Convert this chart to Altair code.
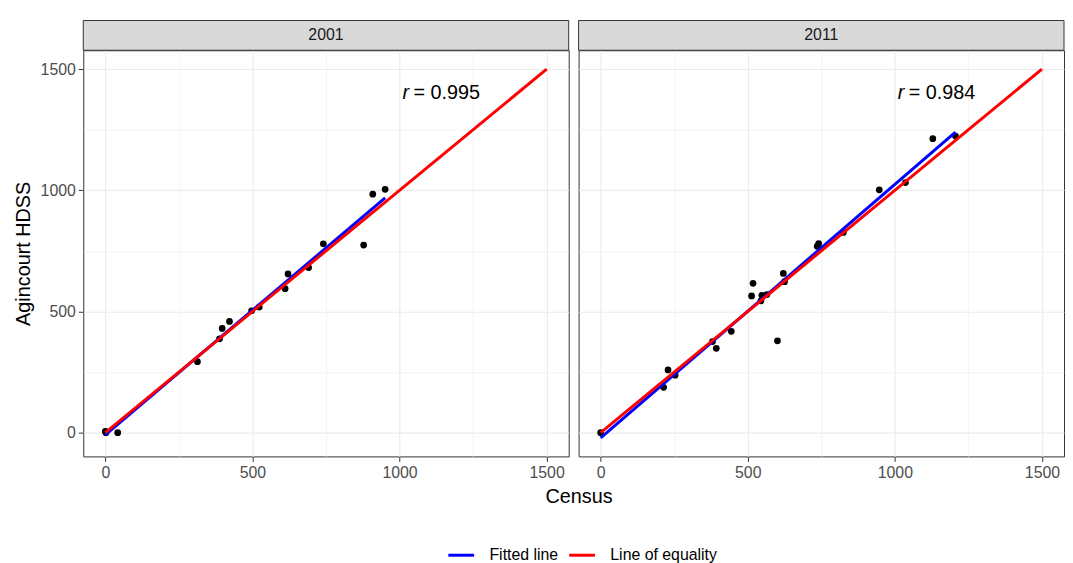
import altair as alt
import pandas as pd

# ---------------- data ----------------
years = ["2001", "2011"]
census_2001 = [0, 2, 42, 313, 388, 397, 422, 497, 523, 611, 621, 691, 741, 878, 909, 951]
hdss_2001 = [5, 0, 0, 293, 387, 430, 459, 503, 518, 594, 655, 681, 779, 774, 984, 1004]
census_2011 = [0, 214, 229, 253, 380, 393, 444, 513, 518, 545, 548, 565, 601, 621, 625,
               736, 741, 825, 947, 1036, 1129, 1206]
hdss_2011 = [0, 187, 259, 237, 376, 348, 418, 564, 616, 544, 567, 570, 379, 657, 623,
             769, 780, 826, 1002, 1032, 1213, 1224]
r_values = ["0.995", "0.984"]
r_label_x = [1000, 1000]
r_label_y = [1400, 1400]
equality_x = [0, 1500]
equality_y = [0, 1500]
series_names = ["Fitted line", "Line of equality"]
series_colors = ["#0000ff", "#ff0000"]
tick_values = [0, 250, 500, 750, 1000, 1250, 1500]

# ---------------- layout ----------------
W, H, STRIP = 490, 410, 30
X_DOMAIN = [-75, 1575]
Y_DOMAIN = [-98, 1578]
GAP = 10

color_scale = alt.Scale(domain=series_names, range=series_colors)
major = "datum.value % 500 === 0"


def axis(show_labels, title=None, title_x=None):
    kw = dict(
        values=tick_values,
        format="d",
        grid=True,
        gridColor="#ebebeb",
        gridWidth={"condition": {"test": major, "value": 1.1}, "value": 0.6},
        domain=False,
        labelOverlap=False,
        labelFlush=False,
    )
    if show_labels:
        kw.update(
            labels=True,
            labelExpr=f"{major} ? datum.label : ''",
            labelFontSize=16,
            labelColor="#4d4d4d",
            labelPadding=3,
            ticks=True,
            tickSize=5,
            tickColor="#333333",
            tickWidth=1,
            tickOpacity={"condition": {"test": major, "value": 1}, "value": 0},
        )
    else:
        kw.update(labels=False, ticks=False)
    if title is not None:
        kw.update(title=title, titleFontSize=20, titleFontWeight="normal", titleColor="black")
        if title_x is not None:
            kw.update(titleX=title_x, titleY=47, titleBaseline="alphabetic", titleAlign="center")
        else:
            kw.update(titlePadding=7)
    else:
        kw.update(title=None)
    return alt.Axis(**kw)


legend = alt.Legend(
    title=None,
    orient="none",
    legendX=367,
    legendY=495,
    direction="horizontal",
    symbolType="stroke",
    symbolStrokeWidth=3,
    symbolSize=676,
    labelFontSize=16,
    labelColor="black",
    labelOffset=14,
    columnPadding=4,
)


def panel(idx, cx, cy):
    first = idx == 0
    year = years[idx]
    pts = pd.DataFrame({"census": cx, "hdss": cy})
    eq = pd.DataFrame({"census": equality_x, "hdss": equality_y,
                       "series": [series_names[1]] * len(equality_x)})
    xs = alt.Scale(domain=X_DOMAIN, nice=False, zero=False)
    ys = alt.Scale(domain=Y_DOMAIN, nice=False, zero=False)
    xenc = alt.X("census:Q", scale=xs,
                 axis=axis(True, title="Census" if first else None,
                           title_x=(W + GAP / 2 + 5) if first else None))
    yenc = alt.Y("hdss:Q", scale=ys,
                 axis=axis(first, title="Agincourt HDSS" if first else None))
    cenc = alt.Color("series:N", scale=color_scale, legend=legend)

    points = alt.Chart(pts).mark_circle(size=46, color="black", opacity=1).encode(x=xenc, y=yenc)
    fit = (
        alt.Chart(pts)
        .transform_regression("census", "hdss")
        .transform_calculate(series=f"'{series_names[0]}'")
        .mark_line(strokeWidth=3)
        .encode(x="census:Q", y="hdss:Q", color=cenc)
    )
    eqline = alt.Chart(eq).mark_line(strokeWidth=3).encode(x="census:Q", y="hdss:Q", color=cenc)

    lab = pd.DataFrame({"label": [year]})
    strip = alt.Chart(lab).mark_rect(fill="#d9d9d9", stroke="#333333", strokeWidth=1).encode(
        x=alt.value(0), x2=alt.value(W), y=alt.value(-STRIP), y2=alt.value(0)
    )
    strip_text = alt.Chart(lab).mark_text(fontSize=16, color="#1a1a1a", baseline="middle",
                                          align="center").encode(
        x=alt.value(W / 2), y=alt.value(-STRIP / 2), text="label:N"
    )

    rdf = pd.DataFrame({"census": [r_label_x[idx]], "hdss": [r_label_y[idx]],
                        "r": ["= " + r_values[idx]]})
    r_it = alt.Chart(rdf).mark_text(text="r", fontStyle="italic", fontSize=20, align="left",
                                    baseline="middle", color="black", dx=3).encode(x="census:Q", y="hdss:Q")
    r_val = alt.Chart(rdf).mark_text(fontSize=20, align="left", baseline="middle", dx=14,
                                     color="black").encode(x="census:Q", y="hdss:Q", text="r:N")

    return alt.layer(points, fit, eqline, strip, strip_text, r_it, r_val).properties(width=W, height=H)


p1 = panel(0, census_2001, hdss_2001)
p2 = panel(1, census_2011, hdss_2011)

chart = (
    alt.hconcat(p1, p2, spacing=GAP, bounds="flush")
    .resolve_scale(color="shared")
    .resolve_legend(color="shared")
    .properties(padding={"left": 4, "top": 9, "right": 0, "bottom": 0})
    .configure(font="Liberation Sans")
    .configure_view(stroke="#333333", strokeWidth=1)
)

chart.save("out.html", embed_options={"renderer": "svg", "actions": False})
